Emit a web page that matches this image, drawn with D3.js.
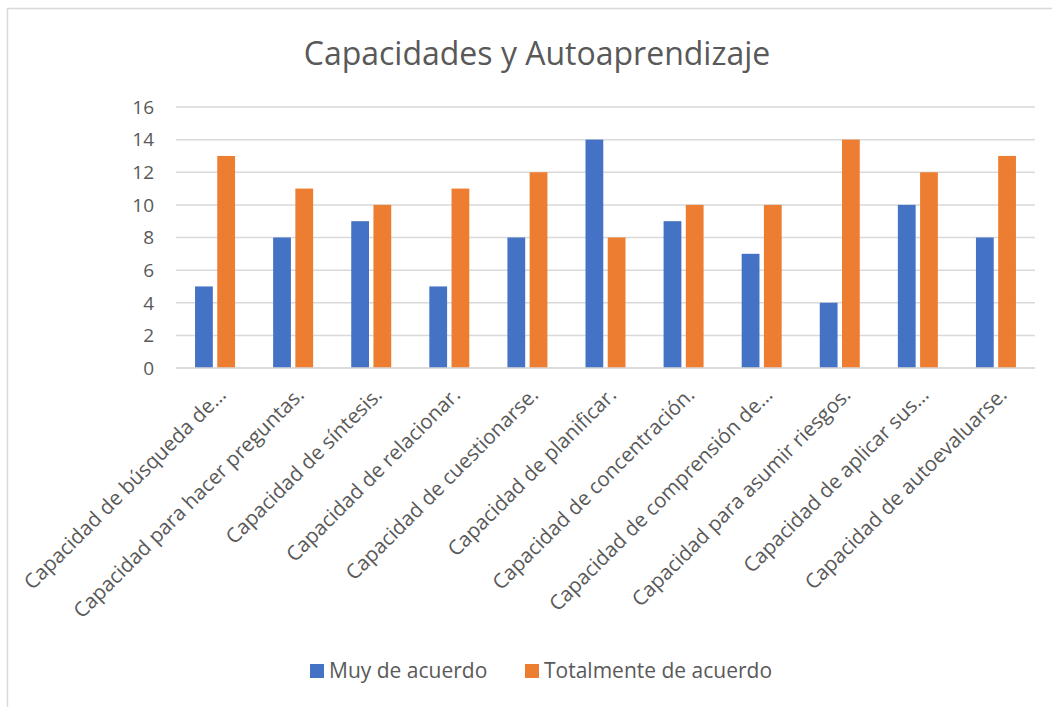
<!DOCTYPE html>
<html>
<head>
<meta charset="utf-8">
<script src="https://cdn.jsdelivr.net/npm/d3@7"></script>
<style>
  body { margin: 0; background: #fff; }
  svg { display: block; font-family: "Open Sans", sans-serif; }
</style>
</head>
<body>
<svg width="1052" height="707"></svg>
<script>
let width = 1052, height = 707;

// Data
let categories = ["Capacidad de búsqueda de…", "Capacidad para hacer preguntas.", "Capacidad de síntesis.",
    "Capacidad de relacionar.", "Capacidad de cuestionarse.", "Capacidad de planificar.",
    "Capacidad de concentración.", "Capacidad de comprensión de…", "Capacidad para asumir riesgos.",
    "Capacidad de aplicar sus…", "Capacidad de autoevaluarse."];
let seriesNames = ["Muy de acuerdo", "Totalmente de acuerdo"];
let muyDeAcuerdo = [5, 8, 9, 5, 8, 14, 9, 7, 4, 10, 8];
let totalmente = [13, 11, 10, 11, 12, 8, 10, 10, 14, 12, 13];
let yTicks = [0, 2, 4, 6, 8, 10, 12, 14, 16];
let colors = ["#4472C4", "#ED7D31"];

let svg = d3.select("svg");

// chart frame
svg.append("rect")
    .attr("x", 7.5).attr("y", 8.5)
    .attr("width", 1060).attr("height", 720)
    .attr("fill", "none")
    .attr("stroke", "#d9d9d9")
    .attr("stroke-width", 1.5);

svg.append("text")
    .attr("x", 537).attr("y", 65)
    .attr("text-anchor", "middle")
    .style("font-size", "32px")
    .style("fill", "#595959")
    .text("Capacidades y Autoaprendizaje");

let margin = { left: 176, right: 1035, top: 107, bottom: 368 };

let x = d3.scaleBand()
    .domain(categories)
    .range([margin.left, margin.right]);

// two bars per group, centred in the band
let x1 = d3.scaleBand()
    .domain(seriesNames)
    .range([x.bandwidth() / 2 - 20, x.bandwidth() / 2 + 20])
    .paddingInner(0.2);

let y = d3.scaleLinear()
    .domain([0, 16])
    .range([margin.bottom, margin.top]);

// gridlines
svg.append("g")
    .selectAll("line")
    .data(yTicks)
    .enter()
    .append("line")
    .attr("x1", margin.left).attr("x2", margin.right)
    .attr("y1", d => y(d)).attr("y2", d => y(d))
    .attr("stroke", "#d9d9d9")
    .attr("stroke-width", 1.5);

// y labels
svg.append("g")
    .selectAll("text")
    .data(yTicks)
    .enter()
    .append("text")
    .attr("x", 154)
    .attr("y", d => y(d))
    .attr("dy", "0.36em")
    .attr("text-anchor", "end")
    .style("font-size", "19px")
    .style("fill", "#595959")
    .text(d => d);

// bars
let rows = categories.map((c, i) => ({ cat: c, values: [muyDeAcuerdo[i], totalmente[i]] }));

let groups = svg.append("g")
    .selectAll("g")
    .data(rows)
    .enter()
    .append("g")
    .attr("transform", d => "translate(" + x(d.cat) + ",0)");

groups.selectAll("rect")
    .data(d => d.values.map((v, i) => ({ name: seriesNames[i], value: v, i: i })))
    .enter()
    .append("rect")
    .attr("x", d => x1(d.name))
    .attr("width", x1.bandwidth())
    .attr("y", d => y(d.value))
    .attr("height", d => y(0) - y(d.value))
    .attr("fill", d => colors[d.i]);

// x axis line on top
svg.append("line")
    .attr("x1", margin.left).attr("x2", margin.right)
    .attr("y1", y(0)).attr("y2", y(0))
    .attr("stroke", "#d9d9d9")
    .attr("stroke-width", 1.5);

// x labels
svg.append("g")
    .selectAll("text")
    .data(categories)
    .enter()
    .append("text")
    .attr("transform", d => "translate(" + (x(d) + x.bandwidth() / 2 + 2) + ",386) rotate(-45)")
    .attr("text-anchor", "end")
    .attr("dy", "0.7em")
    .style("font-size", "20.5px")
    .style("fill", "#595959")
    .text(d => d);

// Legend
let legend = svg.append("g");
let legendX = [310, 525];
seriesNames.forEach((name, i) => {
    legend.append("rect")
        .attr("x", legendX[i]).attr("y", 664)
        .attr("width", 14).attr("height", 14)
        .attr("fill", colors[i]);
    legend.append("text")
        .attr("x", legendX[i] + 19).attr("y", 678)
        .style("font-size", "21px")
        .style("fill", "#595959")
        .text(name);
});
</script>
</body>
</html>
